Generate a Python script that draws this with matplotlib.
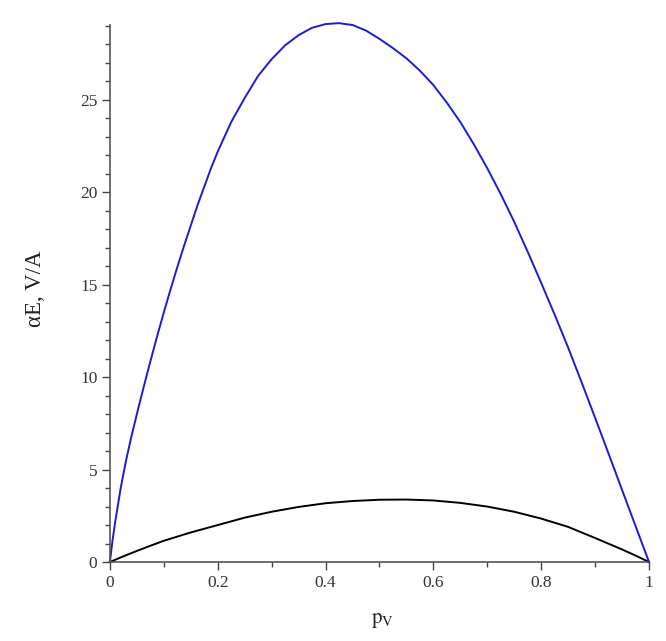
import matplotlib.pyplot as plt
from matplotlib.ticker import MultipleLocator

# values
p_blue = [0, 0.005, 0.01, 0.02, 0.03, 0.04, 0.05, 0.0625, 0.075, 0.0875, 0.1,
          0.1125, 0.125, 0.1375, 0.15, 0.1625, 0.175, 0.1875, 0.2, 0.225, 0.25,
          0.275, 0.3, 0.325, 0.35, 0.375, 0.4, 0.425, 0.45, 0.475, 0.5, 0.525,
          0.55, 0.575, 0.6, 0.625, 0.65, 0.675, 0.7, 0.725, 0.75, 0.775, 0.8,
          0.825, 0.85, 0.875, 0.9, 0.925, 0.95, 0.975, 1.0]
alpha_blue = [0, 1.2, 2.2, 4.0, 5.5, 6.8, 8.0, 9.45, 10.85, 12.2, 13.5,
              14.75, 15.95, 17.1, 18.2, 19.3, 20.3, 21.3, 22.2, 23.8, 25.1,
              26.3, 27.2, 27.95, 28.5, 28.9, 29.1, 29.15, 29.05, 28.75, 28.3, 27.8,
              27.25, 26.58, 25.8, 24.85, 23.8, 22.6, 21.3, 19.9, 18.4, 16.78, 15.1,
              13.38, 11.6, 9.72, 7.8, 5.86, 3.9, 1.95, 0]

p_black = [0, 0.025, 0.05, 0.075, 0.1, 0.15, 0.2, 0.25, 0.3, 0.35, 0.4, 0.45,
           0.5, 0.55, 0.6, 0.65, 0.7, 0.75, 0.8, 0.85, 0.9, 0.95, 0.975, 1.0]
alpha_black = [0, 0.31, 0.6, 0.88, 1.15, 1.6, 2.0, 2.4, 2.72, 2.98, 3.18, 3.3,
               3.37, 3.38, 3.33, 3.2, 3.0, 2.72, 2.35, 1.9, 1.3, 0.68, 0.35, 0]

x_ticks = [0, 0.2, 0.4, 0.6, 0.8, 1]
x_tick_labels = ['0', '0.2', '0.4', '0.6', '0.8', '1']
y_ticks = [0, 5, 10, 15, 20, 25]

plt.rcParams['font.family'] = ['Liberation Serif', 'DejaVu Serif']
plt.rcParams['mathtext.fontset'] = 'stix'

fig = plt.figure(figsize=(6.66, 6.41), dpi=100)
ax = fig.add_axes([0.165, 0.1232, 0.8095, 0.8378])

ax.plot(p_blue, alpha_blue, color='#1c1cd0', lw=1.4, clip_on=False,
        solid_joinstyle='round')
ax.plot(p_black, alpha_black, color='black', lw=1.4, clip_on=False,
        solid_joinstyle='round')

ax.set_xlim(0, 1)
ax.set_ylim(0, 29.05)

for side in ['top', 'right']:
    ax.spines[side].set_visible(False)
for side in ['left', 'bottom']:
    ax.spines[side].set_color('#555555')
    ax.spines[side].set_linewidth(1.2)

ax.set_xticks(x_ticks)
ax.set_xticklabels(x_tick_labels)
ax.set_yticks(y_ticks)
ax.xaxis.set_minor_locator(MultipleLocator(0.1))
ax.yaxis.set_minor_locator(MultipleLocator(1))
ax.tick_params(which='major', length=6, width=1, color='#444444',
               labelsize=12.5, labelcolor='#333333', pad=3)
ax.tick_params(which='minor', length=3.5, width=1, color='#444444')

fig.text(0.054, 0.549, 'αE, V/A', rotation=90, fontsize=16.5,
         ha='center', va='center', color='#222222')
fig.text(0.575, 0.032, r'$\mathrm{p_V}$', fontsize=15,
         ha='center', va='center', color='#222222')

fig.savefig('out.png', dpi=100)
